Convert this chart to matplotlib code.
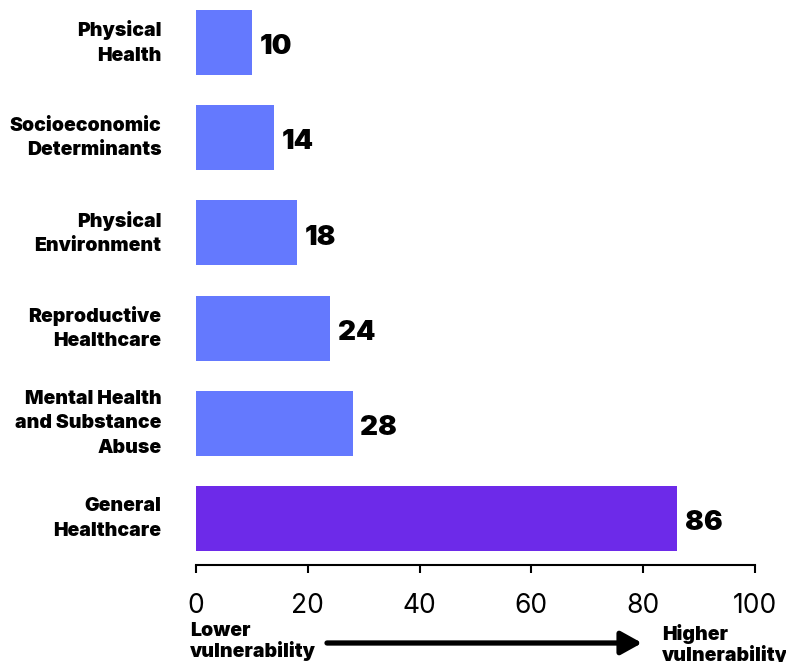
import matplotlib
matplotlib.use("Agg")
import matplotlib.pyplot as plt

categories = ["General\nHealthcare", "Mental Health\nand Substance\nAbuse", "Reproductive\nHealthcare",
              "Physical\nEnvironment", "Socioeconomic\nDeterminants", "Physical\nHealth"]
values = [86, 28, 24, 18, 14, 10]
colors = ["#6D2AE9", "#6479FE", "#6479FE", "#6479FE", "#6479FE", "#6479FE"]
xticks = [0, 20, 40, 60, 80, 100]

plt.rcParams['font.family'] = ['Inter', 'DejaVu Sans']

fig = plt.figure(figsize=(7.86, 6.62), dpi=100)
ax = fig.add_axes([196/786, 1-551/662, (755-196)/786, (551-10)/662])

ypos = list(range(len(categories)))
ax.barh(ypos, values, height=0.684, color=colors)
ax.set_xlim(0, 100)
ax.set_ylim(-0.342, 5.342)

for y, v in zip(ypos, values):
    ax.text(v + 1.4, y - 0.05, str(v), va="center", ha="left", fontsize=20, fontweight="black")

ax.set_yticks(ypos)
ax.set_yticklabels(categories, linespacing=1.45, ha="right", va="center")
ax.tick_params(axis="y", length=0, pad=25, labelsize=14)
for lab in ax.get_yticklabels():
    lab.set_fontweight("black")

ax.set_xticks(xticks)
ax.set_xticklabels([str(t) for t in xticks])
ax.tick_params(axis="x", direction="out", length=6, width=1.5, pad=14, color="black", labelsize=19)
for lab in ax.get_xticklabels():
    lab.set_fontweight("light")

for s in ["top", "right", "left"]:
    ax.spines[s].set_visible(False)
ax.spines["bottom"].set_position(("outward", 10))
ax.spines["bottom"].set_linewidth(1.5)

fig.text(190/786, 1-657/662, "Lower\nvulnerability", fontsize=14, fontweight="black",
         ha="left", va="baseline", linespacing=1.08)
fig.text(662/786, 1-661/662, "Higher\nvulnerability", fontsize=14, fontweight="black",
         ha="left", va="baseline", linespacing=1.08)
fig.add_artist(matplotlib.patches.FancyArrowPatch((327/786, 1-643/662), (642/786, 1-643/662),
               transform=fig.transFigure, arrowstyle="-|>,head_length=0.9,head_width=0.5",
               lw=3.8, color="black", mutation_scale=14, shrinkA=0, shrinkB=0))

fig.savefig("out.png", dpi=100)
